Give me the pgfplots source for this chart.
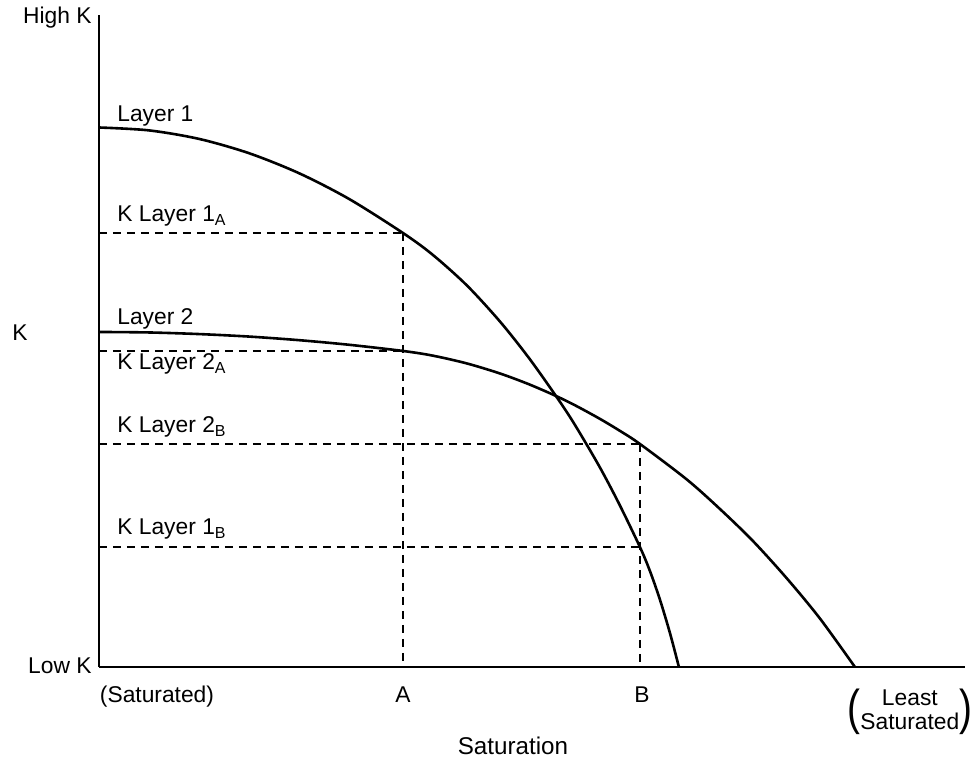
\documentclass[border=0pt]{standalone}
\usepackage{fontspec}
\setmainfont{Liberation Sans}
\usepackage{graphicx}
\usepackage{pgfplots}
\pgfplotsset{compat=1.18}
\begin{document}
\fontsize{11.4}{13.7}\selectfont
\begin{tikzpicture}
\begin{axis}[
  scale only axis, width=433pt, height=326pt,
  xmin=0, xmax=866, ymin=0, ymax=652,
  axis x line=bottom, axis y line=left,
  axis line style={line width=1.1pt,-},
  xtick=\empty, ytick=\empty, clip=false,
]
% invisible frame giving the reference's margins
\path (axis cs:-99,-96) rectangle (axis cs:873,667);
% dashed guide lines
\pgfplotsset{guide/.style={black, line width=1pt, dash pattern=on 4.2pt off 2.8pt}}
\addplot[guide] coordinates {(0,434) (304,434)};
\addplot[guide] coordinates {(304,434) (304,0)};
\addplot[guide] coordinates {(0,316) (304,316)};
\addplot[guide] coordinates {(0,223) (541,223)};
\addplot[guide] coordinates {(0,120) (541,120)};
\addplot[guide] coordinates {(541,223) (541,0)};
% Layer 1
\addplot[black, line width=1.3pt, smooth] coordinates {
 (0,539.5) (50,536.6) (100,528.1) (150,513.8) (200,493.8) (250,468.1) (304,434)
 (334,412) (368,381.5) (401,345.5) (430,309) (457,271) (475,243.7) (500,201.3)
 (520,163.5) (541,120) (551,96) (561,67.4) (571,34.1) (580,0)};
% Layer 2
\addplot[black, line width=1.3pt, smooth] coordinates {
 (0,335) (50,334.5) (100,332.9) (150,330.4) (200,326.8) (250,322.2) (304,316)
 (334,311.3) (368,303.5) (401,293.5) (430,282.7) (457,271) (477,261.2) (501,248.1)
 (521,236.1) (541,223) (588,187.4) (621,158) (654,126) (688,88.5) (721,48.5) (756,0)};
% curve and level labels
\node[inner sep=0pt, anchor=base west] at (axis cs:18,545) {Layer 1};
\node[inner sep=0pt, anchor=base west] at (axis cs:18,445) {K Layer 1\textsubscript{A}};
\node[inner sep=0pt, anchor=base west] at (axis cs:18,342) {Layer 2};
\node[inner sep=0pt, anchor=base west] at (axis cs:18,297) {K Layer 2\textsubscript{A}};
\node[inner sep=0pt, anchor=base west] at (axis cs:18,234) {K Layer 2\textsubscript{B}};
\node[inner sep=0pt, anchor=base west] at (axis cs:18,132) {K Layer 1\textsubscript{B}};
% y axis labels
\node[inner sep=0pt, anchor=base east] at (axis cs:-7,643) {High K};
\node[inner sep=0pt, anchor=base east] at (axis cs:-7,-7) {Low K};
\node[inner sep=0pt, anchor=base west] at (axis cs:-87,326) {K};
% x axis labels
\node[inner sep=0pt, anchor=base] at (axis cs:58,-36) {(Saturated)};
\node[inner sep=0pt, anchor=base] at (axis cs:304,-36) {A};
\node[inner sep=0pt, anchor=base] at (axis cs:543,-36) {B};
\node[inner sep=0pt, anchor=center] (LS) at (axis cs:811,-45)
  {\begin{tabular}{@{}c@{}}Least\\[-2pt]Saturated\end{tabular}};
\node[inner sep=0pt, anchor=east] at ([xshift=0.5pt]LS.west) {\scalebox{1.7}[2.15]{(}};
\node[inner sep=0pt, anchor=west] at ([xshift=-0.5pt]LS.east) {\scalebox{1.7}[2.15]{)}};
\node[inner sep=0pt, anchor=base] at (axis cs:414,-88) {\fontsize{12.1}{14.5}\selectfont Saturation};
\end{axis}
\end{tikzpicture}
\end{document}
